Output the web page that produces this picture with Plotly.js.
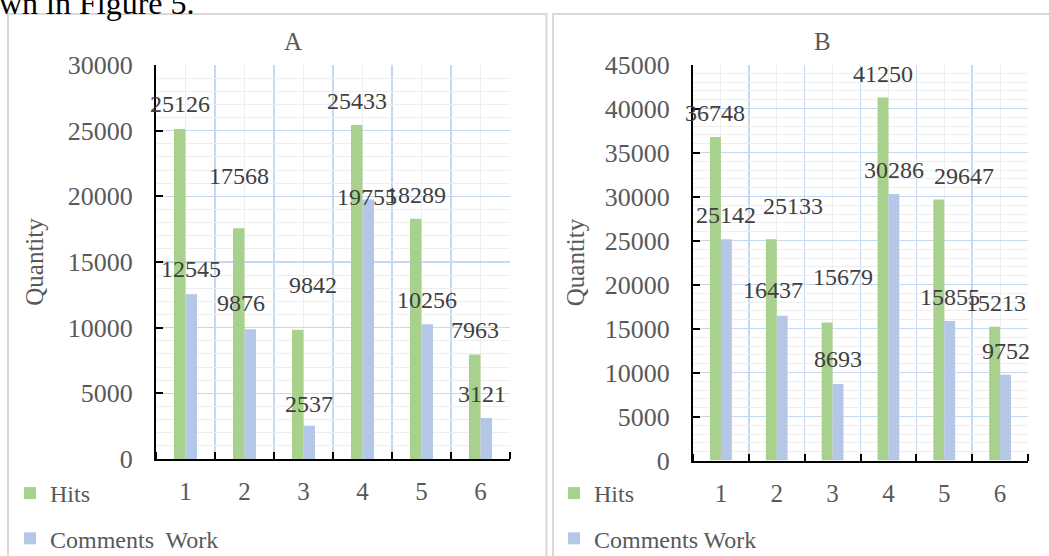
<!DOCTYPE html>
<html>
<head>
<meta charset="utf-8">
<script src="https://cdn.plot.ly/plotly-3.0.1.min.js"></script>
<style>html,body{margin:0;padding:0;background:#fff;}#chart{width:1049px;height:556px;}</style>
</head>
<body>
<div id="chart"></div>
<script>
// ---- data ----
const categories = [1, 2, 3, 4, 5, 6];
const tickLabels = ['1', '2', '3', '4', '5', '6'];
const hitsA = [25126, 17568, 9842, 25433, 18289, 7963];
const commentsA = [12545, 9876, 2537, 19755, 10256, 3121];
const hitsB = [36748, 25133, 15679, 41250, 29647, 15213];
const commentsB = [25142, 16437, 8693, 30286, 15855, 9752];
const seriesNames = ['Hits', 'Comments  Work', 'Comments Work'];

// ---- label nudges (pixels), layout only ----
const nudgeHitsA = {dx: [0, 0, 15, 0, 0, 0], dy: [1, 28, 21, 0, 0, 0]};
const nudgeComA = {dx: [0, -9, 0, -1, 0, -4], dy: [1, 2, -2, -21, 0, 0]};
const nudgeHitsB = {dx: [0, 22, 16, 0, 25, 1], dy: [0, 9, 22, 0, 0, 0]};
const nudgeComB = {dx: [0, -9, 0, 0, 0, 0], dy: [0, 2, 1, 0, 0, 0]};

const W = 1049, H = 556;
const GREEN = '#a9d18e', BLUE = '#b4c7e7';
const FONT = 'Liberation Serif, Times New Roman, serif';
const TXT = '#595959';
const MAJOR = '#c5d9f1', MINOR = '#eeeeee';
const px = v => v / W, py = v => 1 - v / H;

const traces = [
  {type: 'bar', x: categories, y: hitsA, name: seriesNames[0], marker: {color: GREEN}, xaxis: 'x', yaxis: 'y', legend: 'legend', legendgroup: 'a1', hoverinfo: 'none'},
  {type: 'bar', x: categories, y: commentsA, name: seriesNames[1], marker: {color: BLUE}, xaxis: 'x', yaxis: 'y', legend: 'legend', legendgroup: 'a2', hoverinfo: 'none'},
  {type: 'bar', x: categories, y: hitsB, name: seriesNames[0], marker: {color: GREEN}, xaxis: 'x2', yaxis: 'y2', legend: 'legend2', legendgroup: 'b1', hoverinfo: 'none'},
  {type: 'bar', x: categories, y: commentsB, name: seriesNames[2], marker: {color: BLUE}, xaxis: 'x2', yaxis: 'y2', legend: 'legend2', legendgroup: 'b2', hoverinfo: 'none'}
];

function xAxis(domain) {
  return {
    domain: domain, range: [0.5, 6.5], tickmode: 'array', tickvals: categories, ticktext: tickLabels,
    ticks: '', showgrid: true, gridcolor: MINOR, gridwidth: 1, zeroline: false,
    showline: true, linecolor: '#000', linewidth: 2,
    tickfont: {family: FONT, size: 25, color: TXT}, ticklabelstandoff: 9,
    minor: {tickmode: 'linear', tick0: 0.5, dtick: 1, ticks: 'inside', ticklen: 7, tickwidth: 2, tickcolor: '#000', showgrid: true, gridcolor: MAJOR, gridwidth: 1.5},
    automargin: false, fixedrange: true
  };
}
function yAxis(domain, max, anchor, standoff) {
  return {
    domain: domain, range: [0, max], dtick: 5000, tick0: 0, tickformat: 'd', ticks: 'inside', ticklen: 7, tickwidth: 2, tickcolor: '#000',
    showline: true, linecolor: '#000', linewidth: 2, zeroline: false,
    showgrid: true, gridcolor: MAJOR, gridwidth: 1.5, anchor: anchor,
    minor: {dtick: 1000, showgrid: true, gridcolor: MINOR, gridwidth: 1},
    tickfont: {family: FONT, size: 26, color: TXT}, ticklabelstandoff: 16,
    title: {text: 'Quantity', font: {family: FONT, size: 25, color: TXT}, standoff: standoff},
    automargin: false, fixedrange: true
  };
}

const annotations = [];
function addLabels(vals, xref, yref, sign, nudge) {
  vals.forEach((v, i) => {
    annotations.push({
      x: categories[i] + sign * 0.0975, y: v, xref: xref, yref: yref, text: String(v), showarrow: false,
      xanchor: 'center', yanchor: 'middle', xshift: nudge.dx[i], yshift: 24 + nudge.dy[i],
      font: {family: FONT, size: 24, color: '#404040'}
    });
  });
}
addLabels(hitsA, 'x', 'y', -1, nudgeHitsA);
addLabels(commentsA, 'x', 'y', 1, nudgeComA);
addLabels(hitsB, 'x2', 'y2', -1, nudgeHitsB);
addLabels(commentsB, 'x2', 'y2', 1, nudgeComB);

annotations.push({xref: 'paper', yref: 'paper', x: px(293), y: py(42), text: 'A', showarrow: false, xanchor: 'center', yanchor: 'middle', font: {family: FONT, size: 25, color: TXT}});
annotations.push({xref: 'paper', yref: 'paper', x: px(822), y: py(42), text: 'B', showarrow: false, xanchor: 'center', yanchor: 'middle', font: {family: FONT, size: 25, color: TXT}});
annotations.push({xref: 'paper', yref: 'paper', x: px(-3), y: py(3), text: 'wn in Figure 5.', showarrow: false, xanchor: 'left', yanchor: 'middle', font: {family: FONT, size: 32, color: '#000'}});

const legendCommon = {orientation: 'v', traceorder: 'grouped', tracegroupgap: 11, bgcolor: 'rgba(0,0,0,0)', font: {family: FONT, size: 24, color: TXT}, xanchor: 'left', yanchor: 'top', itemclick: false, itemdoubleclick: false};

const layout = {
  width: W, height: H, margin: {l: 0, r: 0, t: 0, b: 0, autoexpand: false}, paper_bgcolor: '#fff', plot_bgcolor: '#fff',
  barmode: 'group', bargap: 0.61, bargroupgap: 0, showlegend: true,
  xaxis: Object.assign(xAxis([px(156), px(510)]), {anchor: 'y'}),
  yaxis: yAxis([py(459), py(65)], 30000, 'x', 17),
  xaxis2: Object.assign(xAxis([px(693), px(1028)]), {anchor: 'y2'}),
  yaxis2: yAxis([py(460.5), py(64.5)], 45000, 'x2', 13),
  legend: Object.assign({}, legendCommon, {x: px(10), y: py(471)}),
  legend2: Object.assign({}, legendCommon, {x: px(554), y: py(471)}),
  annotations: annotations,
  shapes: [
    {type: 'rect', xref: 'paper', yref: 'paper', x0: px(8), x1: px(546.5), y0: py(570), y1: py(14), line: {color: '#d9d9d9', width: 2}, layer: 'below'},
    {type: 'rect', xref: 'paper', yref: 'paper', x0: px(553), x1: px(1060), y0: py(570), y1: py(14), line: {color: '#d9d9d9', width: 2}, layer: 'below'}
  ]
};

Plotly.newPlot('chart', traces, layout, {displayModeBar: false, staticPlot: true});
</script>
</body>
</html>
